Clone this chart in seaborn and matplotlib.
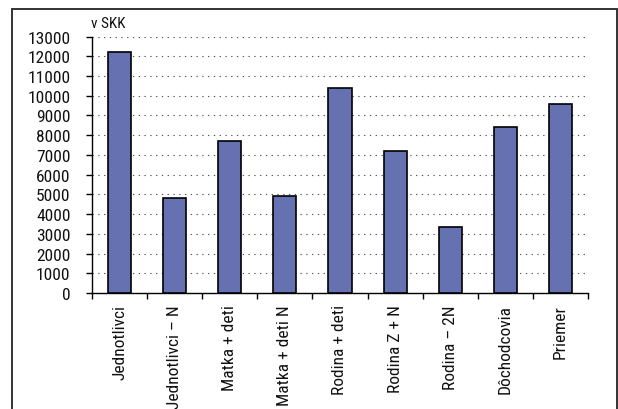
import matplotlib
matplotlib.use("Agg")
import matplotlib.pyplot as plt
from matplotlib.lines import Line2D
from matplotlib.ticker import FixedLocator
import seaborn as sns

# Average monthly amounts by household type (v SKK)
categories = ["Jednotlivci", "Jednotlivci – N", "Matka + deti", "Matka + deti N",
              "Rodina + deti", "Rodina Z + N", "Rodina – 2N", "Dôchodcovia", "Priemer"]
values = [12200, 4800, 7700, 4900, 10400, 7200, 3350, 8400, 9600]
y_ticks = list(range(0, 13001, 1000))
unit_label = "v SKK"

sns.set_theme(style="white")
plt.rcParams["font.family"] = ["Roboto Condensed", "DejaVu Sans"]

W, H = 618, 410
fig = plt.figure(figsize=(W / 100, H / 100), dpi=100)
ax = fig.add_axes([92 / W, 1 - 294 / H, (588 - 92) / W, (294 - 37.5) / H])

sns.barplot(x=categories, y=values, color="#6571B0", saturation=1,
            edgecolor="black", linewidth=1.2, width=0.42, ax=ax, zorder=3)

ax.set_xlim(-0.5, len(categories) - 0.5)
ax.set_ylim(0, 13000)
ax.set_yticks(y_ticks)
ax.set_yticklabels([str(v) for v in y_ticks])
ax.set_xlabel("")
ax.set_ylabel("")

# dotted horizontal gridlines
for v in y_ticks[1:]:
    ax.axhline(v, color="#555555", lw=0.8, linestyle=(0, (1.2, 4)), zorder=1)

for side in ["top", "right"]:
    ax.spines[side].set_visible(False)
for side in ["left", "bottom"]:
    ax.spines[side].set_color("black")
    ax.spines[side].set_linewidth(1.0)

ax.tick_params(axis="y", direction="out", length=4.5, width=1.0, color="black",
               labelsize=12.5, pad=11, left=True, labelcolor="#111111")
ax.tick_params(axis="x", which="major", length=0, labelsize=12.5, pad=8,
               labelcolor="#111111")
ax.xaxis.set_minor_locator(FixedLocator([i - 0.5 for i in range(len(categories) + 1)]))
ax.tick_params(axis="x", which="minor", direction="out", length=4.5, width=1.0,
               color="black", bottom=True)
for lbl in ax.get_xticklabels():
    lbl.set_rotation(90)
    lbl.set_ha("center")
    lbl.set_va("top")

fig.text(91 / W, 1 - 28 / H, unit_label, fontsize=11, ha="left", va="baseline",
         color="#111111")

# outer frame around the chart
frame_kw = dict(color="#333333", lw=1.4, transform=fig.transFigure)
fig.add_artist(Line2D([12 / W, 12 / W], [0, 1 - 10 / H], **frame_kw))
fig.add_artist(Line2D([12 / W, 617 / W], [1 - 10 / H, 1 - 10 / H], **frame_kw))
fig.add_artist(Line2D([617 / W, 617 / W], [0, 1 - 10 / H], **frame_kw))

fig.savefig("out.png", dpi=100, facecolor="white")
